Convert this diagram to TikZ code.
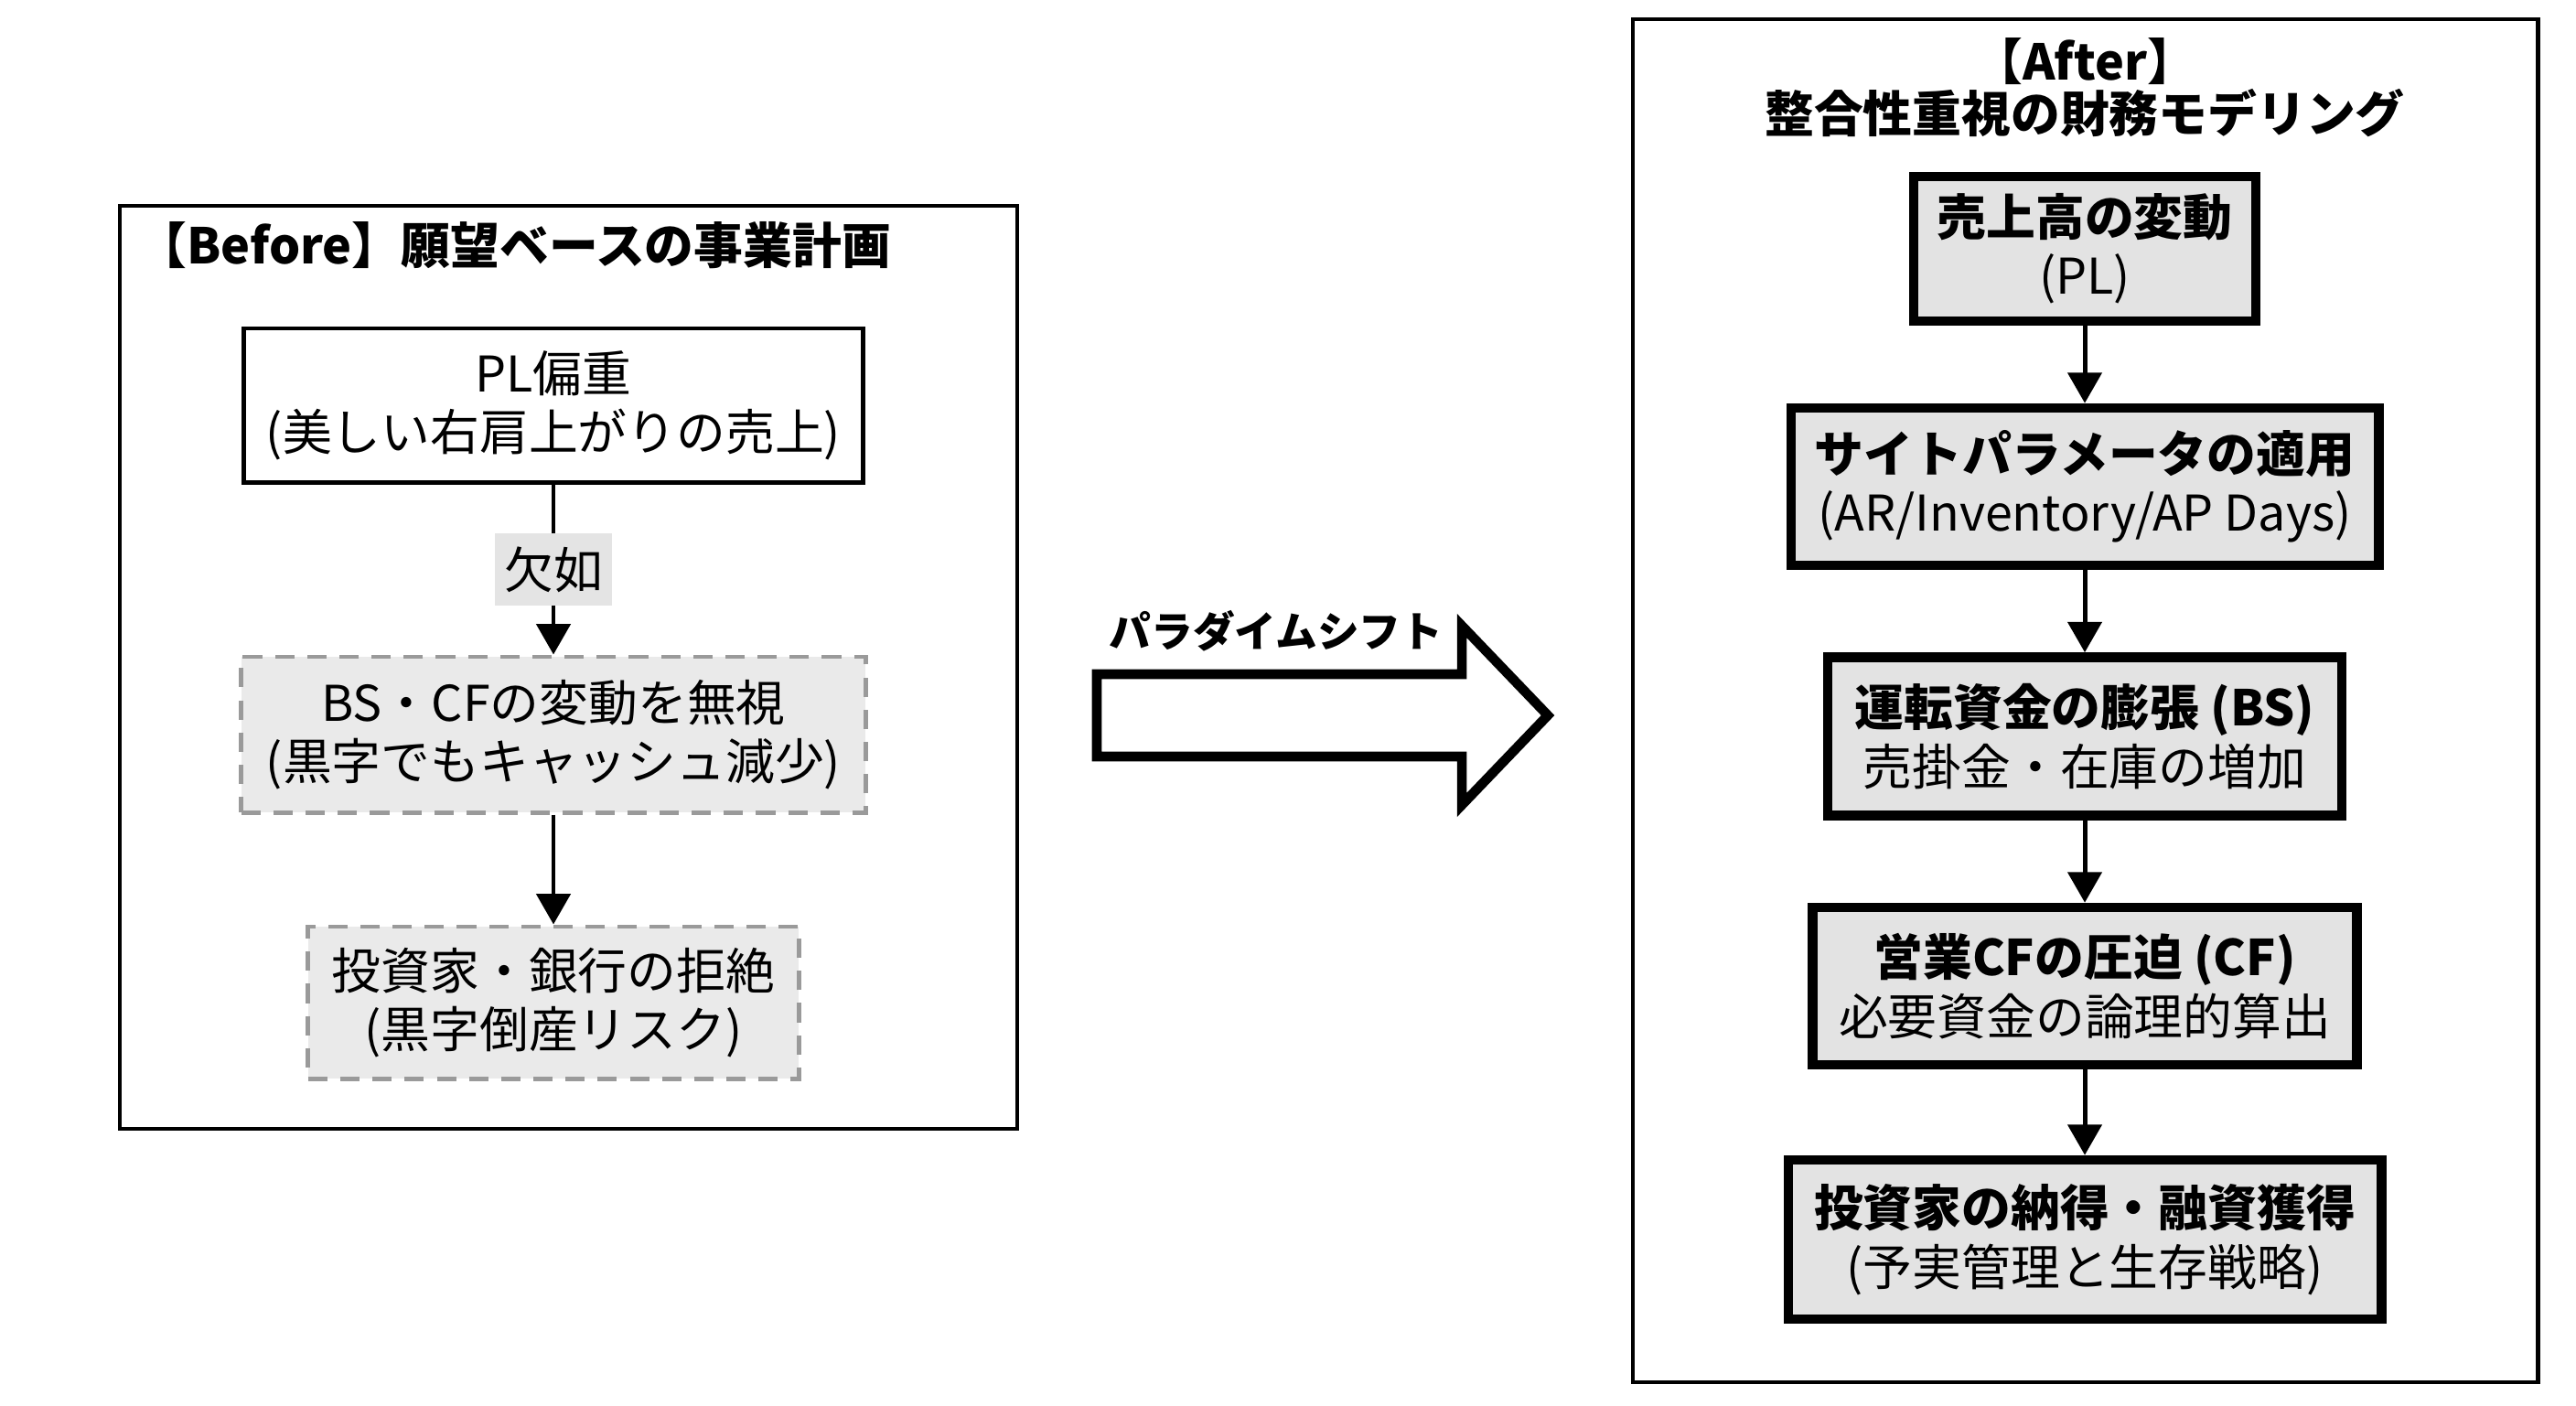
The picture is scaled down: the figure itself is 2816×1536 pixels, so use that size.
\documentclass[tikz,border=0pt]{standalone}
\usepackage{fontspec}
\setmainfont{Noto Sans CJK JP}
\usetikzlibrary{arrows.meta}
\definecolor{rfill}{HTML}{E3E3E3}
\definecolor{lfill}{HTML}{EAEAEA}
\definecolor{dashc}{HTML}{9A9A9A}
\definecolor{lblfill}{HTML}{E4E4E4}
\newcommand{\bodysize}{\fontsize{15.3pt}{18.3pt}\selectfont}
\tikzset{
  frame/.style={draw=black, line width=1.4pt},
  rbox/.style={draw=black, line width=3pt, fill=rfill, align=center, inner xsep=0pt, inner ysep=0pt, font=\bodysize},
  plbox/.style={draw=black, line width=1.4pt, fill=white, align=center, inner xsep=0pt, inner ysep=0pt, font=\bodysize},
  dbox/.style={draw=dashc, line width=1.4pt, dash pattern=on 6pt off 4pt, fill=lfill, align=center, inner xsep=0pt, inner ysep=0pt, font=\bodysize},
  conn/.style={draw=black, line width=1.4pt, -{Triangle[width=10.5pt,length=9.5pt]}},
  lbl/.style={fill=lblfill, inner xsep=3pt, inner ysep=4pt, font=\bodysize},
  ttl/.style={font=\bodysize\bfseries, align=center},
  bigarrow/.style={draw=black, line width=3pt, fill=white, line join=miter}
}
\begin{document}
\begin{tikzpicture}[x=0.01cm,y=-0.01cm]
\useasboundingbox (0,0) rectangle (2816,1536);
\fill[white] (0,0) rectangle (2816,1536);

% ---------- Before ----------
\draw[frame] (131,225) rectangle (1112,1234);
\node[ttl, anchor=west] (btitle) at (138,268) {【Before】願望ベースの事業計画};

\node[plbox, minimum width=6.77cm, minimum height=1.68cm] (pl) at (605,443) {PL偏重\\(美しい右肩上がりの売上)};
\node[dbox, minimum width=6.82cm, minimum height=1.70cm] (bs) at (605,803) {BS・CFの変動を無視\\(黒字でもキャッシュ減少)};
\node[dbox, minimum width=5.36cm, minimum height=1.66cm] (inv) at (605,1096) {投資家・銀行の拒絶\\(黒字倒産リスク)};

\draw[conn] (pl) -- node[lbl] (kj) {欠如} (bs);
\draw[conn] (bs) -- (inv);

% ---------- Paradigm shift ----------
\draw[bigarrow] (1199,737) -- (1598,737) -- (1598,684) -- (1692,782) -- (1598,880) -- (1598,827) -- (1199,827) -- cycle;
\node[font=\fontsize{13pt}{16pt}\selectfont\bfseries] (ps) at (1395,690) {パラダイムシフト};

% ---------- After ----------
\draw[frame] (1785,21) rectangle (2774,1511);
\node[ttl] (at1) at (2279,67) {【After】};
\node[ttl] (at2) at (2279,124) {整合性重視の財務モデリング};

\node[rbox, minimum width=3.74cm, minimum height=1.58cm] (r1) at (2279,272) {\textbf{売上高の変動}\\(PL)};
\node[rbox, minimum width=6.42cm, minimum height=1.72cm] (r2) at (2279,532) {\textbf{サイトパラメータの適用}\\(AR/Inventory/AP Days)};
\node[rbox, minimum width=5.62cm, minimum height=1.73cm] (r3) at (2279,805) {\textbf{運転資金の膨張 (BS)}\\売掛金・在庫の増加};
\node[rbox, minimum width=5.95cm, minimum height=1.72cm] (r4) at (2279,1078) {\textbf{営業CFの圧迫 (CF)}\\必要資金の論理的算出};
\node[rbox, minimum width=6.48cm, minimum height=1.74cm] (r5) at (2279,1355) {\textbf{投資家の納得・融資獲得}\\(予実管理と生存戦略)};

\draw[conn] (r1) -- (r2);
\draw[conn] (r2) -- (r3);
\draw[conn] (r3) -- (r4);
\draw[conn] (r4) -- (r5);
\end{tikzpicture}
\end{document}
